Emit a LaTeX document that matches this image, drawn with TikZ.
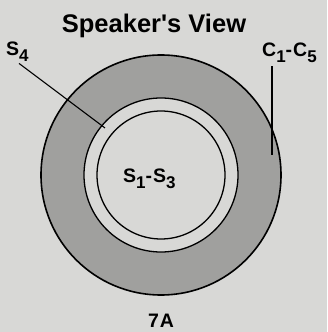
\documentclass[tikz,border=0pt]{standalone}
\usepackage{fontspec}
\setmainfont{Liberation Sans}[Ligatures=TeXOff]
\newfontfamily\lblfont{Liberation Sans}[Ligatures=TeXOff,LetterSpace=5]
\usetikzlibrary{positioning}
\definecolor{paper}{HTML}{D8D8D6}
\definecolor{ringgray}{HTML}{A0A09E}
\newcommand{\lowidx}[1]{\raisebox{-6pt}{\fontsize{17}{17}\selectfont #1}}

\begin{document}
\begin{tikzpicture}[x=1pt,y=1pt, every node/.style={font=\lblfont\bfseries\fontsize{19.5}{19.5}\selectfont}]
    \tikzset{ring/.style={draw=black,circle,inner sep=0pt,line width=1.3pt},
             leader/.style={draw=black,line width=1.1pt},
             lbl/.style={inner sep=0pt,anchor=base west}}
    \fill[paper] (0,0) rectangle (327,332);
    \useasboundingbox (0,0) rectangle (327,332);
    % rings, speaker's view
    \node[ring,fill=ringgray,minimum size=240pt,line width=1.6pt] (outer) at (161,157) {};
    \node[ring,fill=paper,minimum size=154pt] (mid) at (outer.center) {};
    \node[ring,minimum size=128pt] (inner) at (outer.center) {};
    % labels
    \node[inner sep=0pt,anchor=base,font=\fontsize{25.5}{25.5}\selectfont\bfseries] (title) at (154,299) {Speaker's View};
    \node[lbl] (s13) at (123,149) {S\lowidx{1}-S\lowidx{3}};
    \node[lbl] (s4) at (6,276) {S\lowidx{4}};
    \node[lbl] (c15) at (262,275) {C\lowidx{1}-C\lowidx{5}};
    \node[lbl] (fig) at (148,5) {7A};
    \coordinate (s4end) at (105,204);
    \coordinate (cend) at (272,177);
    \draw[leader,shorten <=2pt] (s4.south) -- (s4end);
    \draw[leader,shorten <=3pt] (cend |- c15.south) -- (cend);
\end{tikzpicture}
\end{document}
